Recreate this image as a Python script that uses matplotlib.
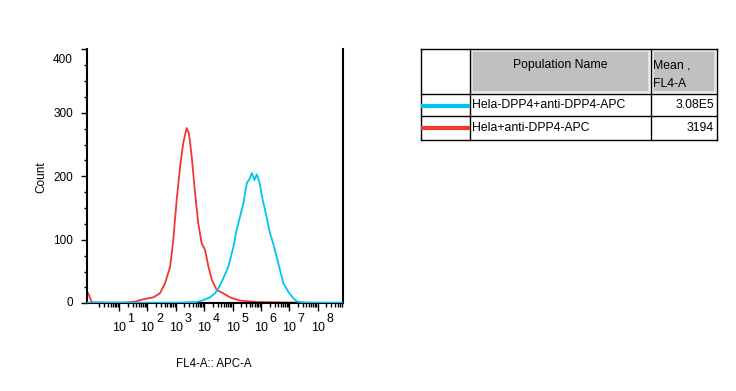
import numpy as np
import matplotlib.pyplot as plt
from matplotlib.patches import Rectangle
from matplotlib.transforms import blended_transform_factory, offset_copy

plt.rcParams['font.family'] = ['Liberation Sans', 'DejaVu Sans']

# ---------- data (x in display decades, y in counts) ----------
red_x = [-0.14, -0.08, 0.04, 0.6, 1.2, 1.56, 1.86, 2.21, 2.44, 2.62, 2.80, 2.91,
         3.03, 3.15, 3.26, 3.38, 3.46, 3.56, 3.68, 3.79, 3.91, 4.03, 4.15,
         4.27, 4.44, 4.67, 4.91, 5.26, 5.85, 7.26, 8.88]
red_y = [19, 15, 1.5, 1, 1, 2.6, 6.3, 9.4, 15.7, 31.5, 57.7, 99.7,
         162.7, 215, 252, 276, 268, 231, 173, 126, 94.5, 84, 57.7,
         36.7, 21, 15.7, 9.4, 4.2, 2.1, 1, 0.5]

blue_x = [-0.14, 1.0, 2.0, 3.0, 3.73, 3.97, 4.20, 4.38, 4.50, 4.67, 4.85, 5.03,
          5.14, 5.26, 5.38, 5.50, 5.61, 5.68, 5.77, 5.85, 5.94, 6.06, 6.20,
          6.32, 6.43, 6.55, 6.67, 6.79, 6.96, 7.14, 7.28, 7.61, 8.88]
blue_y = [1, 1, 1, 1, 2, 5, 9.4, 15.7, 23.6, 39, 57.7, 89,
          115, 136, 157, 189, 197, 205, 194, 203, 192, 163, 136,
          110, 94.5, 73.5, 52.5, 31.5, 18.4, 7.9, 2.6, 1, 1]

decades = [1, 2, 3, 4, 5, 6, 7, 8]
yticks = [0, 100, 200, 300, 400]

rows = ["Hela-DPP4+anti-DPP4-APC", "Hela+anti-DPP4-APC"]
means = ["3.08E5", "3194"]
row_colors = ["#00c4f0", "#f03535"]

# ---------- figure ----------
fig = plt.figure(figsize=(7.36, 3.91), dpi=100)
W, H = 736, 391
ax = fig.add_axes([86.7 / W, 1 - 303.3 / H, 256 / W, 254 / H])

ax.plot(red_x, red_y, color=row_colors[1], lw=1.3, zorder=2)
ax.plot(blue_x, blue_y, color=row_colors[0], lw=1.3, zorder=3)

ax.set_xlim(-0.14, 8.88)
ax.set_ylim(0, 400)

ax.spines['top'].set_visible(False)
for s in ['left', 'right', 'bottom']:
    ax.spines[s].set_linewidth(1.5)

# y ticks
ax.set_yticks(yticks)
ax.set_yticklabels([str(v) for v in yticks])
ax.set_yticks(np.arange(0, 401, 25), minor=True)
ax.tick_params(axis='y', which='major', length=4, width=1, labelsize=8.5, pad=6)
ax.tick_params(axis='y', which='minor', length=2.5, width=1)
lab = ax.get_yticklabels()
lab[-1].set_transform(offset_copy(lab[-1].get_transform(), fig=fig, y=-9, units='dots'))
lab[0].set_transform(offset_copy(lab[0].get_transform(), fig=fig, y=1.5, units='dots'))

# x ticks: decades + minor log ticks
minor = []
for d in range(0, 9):
    for k in range(2, 10):
        v = d + np.log10(k)
        if v < 8.88:
            minor.append(v)
ax.set_xticks(decades)
ax.set_xticklabels([])
ax.set_xticks(minor, minor=True)
ax.tick_params(axis='x', which='major', length=5.5, width=1)
ax.tick_params(axis='x', which='minor', length=3, width=1)

tr = blended_transform_factory(ax.transData, ax.transAxes)
for d in decades:
    ax.text(d, 0, "10", transform=offset_copy(tr, fig=fig, y=-18.5, units='dots'),
            ha='center', va='top', fontsize=9)
    ax.text(d, 0, str(d), transform=offset_copy(tr, fig=fig, x=8.5, y=-9.5, units='dots'),
            ha='left', va='top', fontsize=9)

fig.text(41.5 / W, 1 - 177.5 / H, "Count", rotation=90, ha='center', va='center', fontsize=8.5)
fig.text(213.7 / W, 1 - 364 / H, "FL4-A:: APC-A", ha='center', va='center', fontsize=8.3)

# ---------- legend table (pixel coordinates) ----------
tb = fig.add_axes([0, 0, 1, 1])
tb.set_xlim(0, W)
tb.set_ylim(H, 0)
tb.axis('off')

x0, x1, x2, x3 = 421, 470, 651, 717
y0, y1, y2, y3 = 48.5, 93.5, 116, 140
lk = dict(color='black', lw=1)
for yy in [y0, y1, y2, y3]:
    tb.plot([x0, x3], [yy, yy], **lk)
for xx in [x0, x1, x2, x3]:
    tb.plot([xx, xx], [y0, y3], **lk)

for (a, b) in [(x1, x2), (x2, x3)]:
    tb.add_patch(Rectangle((a + 2, y0 + 2), b - a - 4, y1 - y0 - 4,
                           facecolor='#c0c0c0', edgecolor='#e6e6e6', lw=1.2))

fs = 8.8
tb.text((x1 + x2) / 2, 65, "Population Name", ha='center', va='center', fontsize=fs)
tb.text(x2 + 2, 65, "Mean ,", ha='left', va='center', fontsize=fs)
tb.text(x2 + 2, 84, "FL4-A", ha='left', va='center', fontsize=fs)

row_y = [105.5, 128.3]
for name, m, c, yy in zip(rows, means, row_colors, row_y):
    tb.plot([x0, x1], [yy, yy], color=c, lw=3, solid_capstyle='butt')
    tb.text(x1 + 2, yy, name, ha='left', va='center', fontsize=fs)
    tb.text(x3 - 3, yy, m, ha='right', va='center', fontsize=fs)

fig.savefig("out.png", dpi=100)
